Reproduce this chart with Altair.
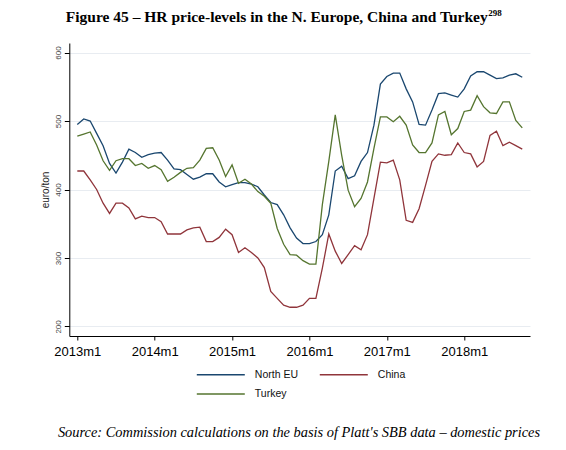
import altair as alt
import pandas as pd

# month index 0 = 2013m1 ... 69 = 2018m10
months = list(range(70))

north_eu = [495, 503, 500, 482, 464, 438, 424, 440, 459, 454, 447, 451, 453, 454, 443, 430, 429, 422, 415, 418, 423, 423, 411, 404, 407,
            410, 410, 408, 404, 392, 381, 378, 363, 344, 329, 321, 321, 324, 334, 363, 427, 434, 416, 420, 441, 454, 494,
            554, 565, 570, 570, 547, 528, 495, 494, 516, 540, 541, 538, 535, 547, 566, 572, 572, 567, 562, 563, 567, 569, 564]
china = [427, 427, 414, 400, 380, 365, 380, 380, 373, 357, 361, 359, 359, 353, 335, 335, 335, 341, 344, 345, 324, 324, 330, 342, 334,
         308, 315, 308, 300, 286, 251, 241, 231, 228, 228, 231, 241, 241, 285, 335, 310, 292, 305, 318, 312, 334, 387,
         440, 439, 443, 414, 355, 352, 372, 406, 441, 452, 450, 451, 468, 454, 452, 433, 441, 479, 485, 464, 469, 464, 459]
turkey = [478, 481, 484, 465, 442, 428, 442, 445, 445, 435, 438, 431, 435, 429, 412, 418, 425, 431, 432, 443, 460, 461, 443, 419, 436,
          409, 415, 408, 397, 390, 380, 343, 320, 305, 304, 296, 291, 291, 378, 441, 509, 450, 399, 375, 387, 411, 460,
          506, 506, 499, 507, 494, 465, 454, 454, 468, 509, 514, 480, 489, 514, 516, 537, 521, 512, 511, 528, 528, 501, 490]

series_names = ["North EU", "China", "Turkey"]
series_colors = ["#1a476f", "#90353b", "#55752f"]

x_tick_values = [0, 12, 24, 36, 48, 60]
x_tick_labels = ["2013m1", "2014m1", "2015m1", "2016m1", "2017m1", "2018m1"]
y_tick_values = [200, 300, 400, 500, 600]

title_text = "Figure 45 \u2013 HR price-levels in the N. Europe, China and Turkey"
title_sup = "298"
source_text = "Source: Commission calculations on the basis of Platt's SBB data \u2013 domestic prices"

rows = []
for name, vals in zip(series_names, [north_eu, china, turkey]):
    for m, v in zip(months, vals):
        rows.append({"month": m, "price": v, "series": name})
df = pd.DataFrame(rows)

label_expr = "''"
for v, lab in reversed(list(zip(x_tick_values, x_tick_labels))):
    label_expr = f"datum.value == {v} ? '{lab}' : ({label_expr})"

lines = alt.Chart(df).mark_line(strokeWidth=1.3).encode(
    x=alt.X("month:Q",
            scale=alt.Scale(domain=[-1.24, 70.2], nice=False, zero=False),
            axis=alt.Axis(values=x_tick_values, labelExpr=label_expr, title=None, grid=False,
                          domainColor="black", domainWidth=1, tickColor="black", tickSize=4,
                          labelFont="Liberation Sans", labelFontSize=13, labelColor="black",
                          labelPadding=5, labelFlush=False)),
    y=alt.Y("price:Q",
            scale=alt.Scale(domain=[186, 614], nice=False, zero=False),
            axis=alt.Axis(values=y_tick_values, title="euro/ton", grid=True, gridColor="#e8ecf1",
                          gridWidth=1, domainColor="black", domainWidth=1, tickColor="black",
                          tickSize=5, labelAngle=270, labelAlign="center", labelBaseline="bottom",
                          labelFont="Liberation Sans", labelFontSize=8, labelColor="#444444",
                          labelPadding=2, titleFont="Liberation Sans", titleFontSize=10,
                          titleFontWeight="normal", titleColor="#222222", titlePadding=4)),
    color=alt.Color("series:N",
                    scale=alt.Scale(domain=series_names, range=series_colors),
                    legend=alt.Legend(orient="none", legendX=121.5, legendY=325.5, columns=2,
                                      direction="horizontal",
                                      title=None, padding=0, symbolType="M0,0H9.6", symbolSize=100,
                                      symbolStrokeWidth=1.5, labelOffset=52, columnPadding=15,
                                      rowPadding=7.5, labelFont="Liberation Sans", labelFontSize=10.5,
                                      labelColor="#111111")),
)

title_mark = alt.Chart(pd.DataFrame({"t": [title_text]})).mark_text(
    font="Liberation Serif", fontWeight="bold", fontSize=15.5, align="left", baseline="alphabetic",
    color="black").encode(x=alt.value(-3.5), y=alt.value(-21.5), text="t:N")

sup_mark = alt.Chart(pd.DataFrame({"t": [title_sup]})).mark_text(
    font="Liberation Serif", fontWeight="bold", fontSize=9, align="left", baseline="alphabetic",
    color="black").encode(x=alt.value(419.0), y=alt.value(-27), text="t:N")

source_mark = alt.Chart(pd.DataFrame({"t": [source_text]})).mark_text(
    font="Liberation Serif", fontStyle="italic", fontSize=14.4, align="center", baseline="alphabetic",
    color="black").encode(x=alt.value(229.7), y=alt.value(394), text="t:N")

chart = alt.layer(lines, title_mark, sup_mark, source_mark).properties(
    width=460.7, height=293,
    autosize=alt.AutoSizeParams(type="none"),
    padding={"left": 61.3, "top": 35, "right": 20, "bottom": 106},
    background="white",
).configure_view(stroke=None)

chart.save("out.html", embed_options={"renderer": "svg", "actions": False})
